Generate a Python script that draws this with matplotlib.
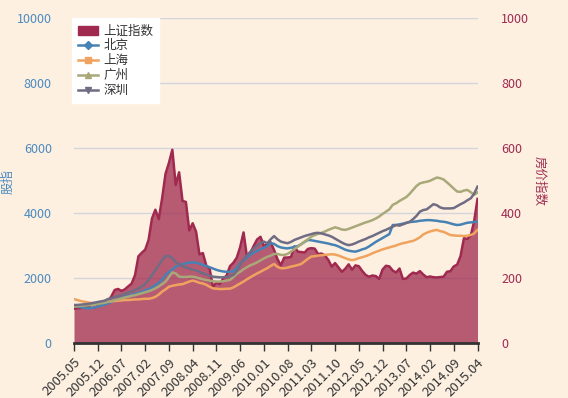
import numpy as np
import matplotlib
matplotlib.use('Agg')
from matplotlib import pyplot as plt
from matplotlib.lines import Line2D
from matplotlib.patches import Patch

plt.rcParams['font.family'] = ['Noto Sans CJK SC', 'DejaVu Sans']

# months 2005.05 .. 2015.04
months = []
y, m = 2005, 5
for k in range(120):
    months.append('%d.%02d' % (y, m))
    m += 1
    if m > 12:
        m = 1
        y += 1

# 上证指数 monthly close
sh_index = [1061, 1081, 1083, 1163, 1156, 1093, 1099, 1161, 1258, 1299, 1298, 1440,
            1641, 1672, 1613, 1659, 1752, 1838, 2099, 2676, 2786, 2881, 3184, 3841,
            4110, 3821, 4471, 5219, 5552, 5955, 4872, 5262, 4383, 4349, 3473, 3693,
            3433, 2736, 2776, 2397, 2294, 1729, 1871, 1821, 1991, 2083, 2373, 2478,
            2633, 2959, 3412, 2668, 2779, 2996, 3195, 3277, 2989, 3052, 3109, 2871,
            2592, 2398, 2638, 2639, 2656, 2979, 2820, 2808, 2791, 2905, 2928, 2912,
            2744, 2762, 2702, 2567, 2359, 2468, 2333, 2199, 2293, 2429, 2263, 2396,
            2372, 2225, 2104, 2048, 2086, 2069, 1980, 2269, 2385, 2366, 2237, 2178,
            2301, 1979, 1994, 2098, 2175, 2142, 2221, 2116, 2033, 2056, 2033, 2026,
            2039, 2048, 2202, 2217, 2364, 2420, 2683, 3235, 3210, 3310, 3748, 4442]

beijing = [115, 113, 111, 109, 108, 108, 110, 113, 116, 119, 123, 127,
           131, 135, 139, 143, 146, 149, 152, 155, 159, 163, 167, 172,
           179, 186, 196, 210, 219, 227, 236, 240, 243, 246, 248, 249,
           248, 245, 241, 238, 234, 230, 226, 223, 221, 220, 220, 222,
           232, 246, 254, 263, 272, 279, 284, 289, 294, 300, 308, 306,
           299, 295, 293, 292, 294, 297, 299, 305, 312, 318, 317, 315,
           313, 311, 309, 307, 304, 302, 298, 293, 288, 285, 283, 282,
           285, 289, 292, 298, 305, 312, 318, 324, 330, 336, 364, 364,
           366, 368, 371, 373, 374, 375, 377, 378, 379, 379, 378, 377,
           375, 374, 372, 369, 366, 364, 365, 368, 371, 372, 373, 375]

shanghai = [136, 133, 130, 128, 126, 124, 123, 124, 125, 126, 128, 129,
            130, 131, 132, 133, 133, 134, 135, 135, 136, 137, 137, 139,
            143, 150, 159, 166, 174, 177, 179, 181, 182, 186, 190, 193,
            190, 186, 184, 180, 174, 169, 168, 167, 167, 168, 168, 172,
            178, 184, 190, 197, 203, 209, 215, 220, 226, 231, 238, 244,
            235, 231, 231, 233, 236, 238, 241, 244, 252, 260, 267, 268,
            270, 271, 272, 273, 274, 273, 270, 266, 262, 258, 256, 258,
            262, 265, 268, 272, 277, 281, 285, 289, 292, 295, 298, 301,
            305, 308, 310, 313, 315, 320, 326, 335, 340, 344, 347, 349,
            345, 343, 338, 333, 332, 331, 331, 330, 331, 333, 338, 349]

guangzhou = [113, 114, 115, 116, 117, 118, 119, 121, 123, 125, 128, 130,
             133, 135, 138, 141, 143, 146, 148, 151, 154, 157, 160, 164,
             169, 175, 182, 190, 204, 218, 215, 205, 204, 204, 205, 205,
             203, 200, 197, 195, 193, 191, 190, 190, 191, 193, 195, 203,
             214, 220, 228, 234, 240, 244, 249, 255, 261, 266, 270, 275,
             275, 272, 272, 275, 282, 290, 297, 305, 313, 320, 328, 333,
             337, 340, 344, 349, 353, 357, 354, 350, 349, 352, 356, 360,
             364, 368, 372, 375, 379, 384, 390, 398, 405, 412, 426, 431,
             438, 444, 450, 460, 472, 484, 492, 495, 497, 500, 505, 510,
             508, 504, 495, 486, 476, 467, 466, 470, 472, 465, 457, 464]

shenzhen = [118, 118, 119, 120, 121, 123, 125, 127, 129, 131, 136, 139,
            142, 145, 148, 152, 156, 160, 164, 169, 174, 183, 195, 210,
            225, 240, 256, 269, 268, 262, 250, 244, 238, 233, 230, 227,
            224, 220, 215, 212, 208, 205, 204, 203, 203, 204, 207, 210,
            222, 240, 258, 270, 282, 292, 300, 308, 313, 308, 320, 330,
            320, 313, 310, 308, 312, 318, 322, 326, 330, 333, 336, 339,
            340, 338, 335, 332, 328, 322, 316, 310, 305, 302, 304, 308,
            313, 317, 321, 326, 330, 335, 340, 345, 349, 354, 359, 364,
            362, 366, 370, 374, 382, 392, 405, 410, 412, 420, 428, 425,
            418, 415, 415, 415, 416, 422, 428, 433, 440, 446, 460, 482]

bg = '#fdf0e1'
c_area = '#a0294f'
c_bj = '#4682b4'
c_sh = '#f0a35e'
c_gz = '#a8a878'
c_sz = '#706c84'

x = np.arange(len(months))

fig = plt.figure(figsize=(5.68, 3.98), dpi=100, facecolor=bg)
ax = fig.add_axes([74/568, 1-343.3/398, 403.5/568, 325/398])
ax.set_facecolor(bg)
ax2 = ax.twinx()

ax.fill_between(x, 0, sh_index, color=c_area, alpha=0.75, linewidth=0, zorder=2)
ax.plot(x, sh_index, color=c_area, lw=1.8, zorder=3)
ax.set_ylim(0, 10000)
ax.set_yticks(range(0, 10001, 2000))
ax.set_xlim(0, len(months)-1)
ax.set_xticks(x[::7])
ax.set_xticklabels(months[::7], rotation=45, ha='right', rotation_mode='anchor',
                   fontsize=9.5, color='#333333')
for v in range(2000, 10001, 2000):
    ax.axhline(v, color='#d4d4dc', lw=1, zorder=1)

ax2.plot(x, beijing, color=c_bj, lw=1.8)
ax2.plot(x, shanghai, color=c_sh, lw=1.8)
ax2.plot(x, guangzhou, color=c_gz, lw=1.8)
ax2.plot(x, shenzhen, color=c_sz, lw=1.8)
ax2.set_ylim(0, 1000)
ax2.set_yticks(range(0, 1001, 200))

for a in (ax, ax2):
    for s in ('top', 'left', 'right'):
        a.spines[s].set_visible(False)
ax2.spines['bottom'].set_visible(False)
ax.spines['bottom'].set_color('#333333')
ax.spines['bottom'].set_linewidth(2)
ax.spines['bottom'].set_zorder(5)
ax.tick_params(axis='x', length=6, width=1, color='#333333', pad=3)
ax.tick_params(axis='y', length=0, pad=16, labelsize=9, labelcolor='#4a8ac0')
ax2.tick_params(axis='y', length=0, pad=17, labelsize=9, labelcolor='#a0294f')

fig.text(8/568, 1-181/398, '股指', rotation=90, ha='center', va='center',
         fontsize=9, color='#4a8ac0')
fig.text(539/568, 1-181/398, '房价指数', rotation=270, ha='center', va='center',
         fontsize=9, color='#a0294f')

handles = [Patch(facecolor=c_area, edgecolor=c_area),
           Line2D([], [], color=c_bj, lw=1.8, marker='D', ms=4),
           Line2D([], [], color=c_sh, lw=1.8, marker='s', ms=5),
           Line2D([], [], color=c_gz, lw=1.8, marker='^', ms=5),
           Line2D([], [], color=c_sz, lw=1.8, marker='v', ms=5)]
labels = ['上证指数', '北京', '上海', '广州', '深圳']
leg = ax2.legend(handles, labels, loc='upper left', bbox_to_anchor=(-0.005, 1.0),
                 borderaxespad=0, fancybox=False, framealpha=1, facecolor='white',
                 edgecolor='white', fontsize=9, handlelength=1.6, handletextpad=0.4,
                 labelspacing=0.15, borderpad=0.5)
for t in leg.get_texts():
    t.set_color('#333333')

fig.savefig('out.png', dpi=100, facecolor=bg)
